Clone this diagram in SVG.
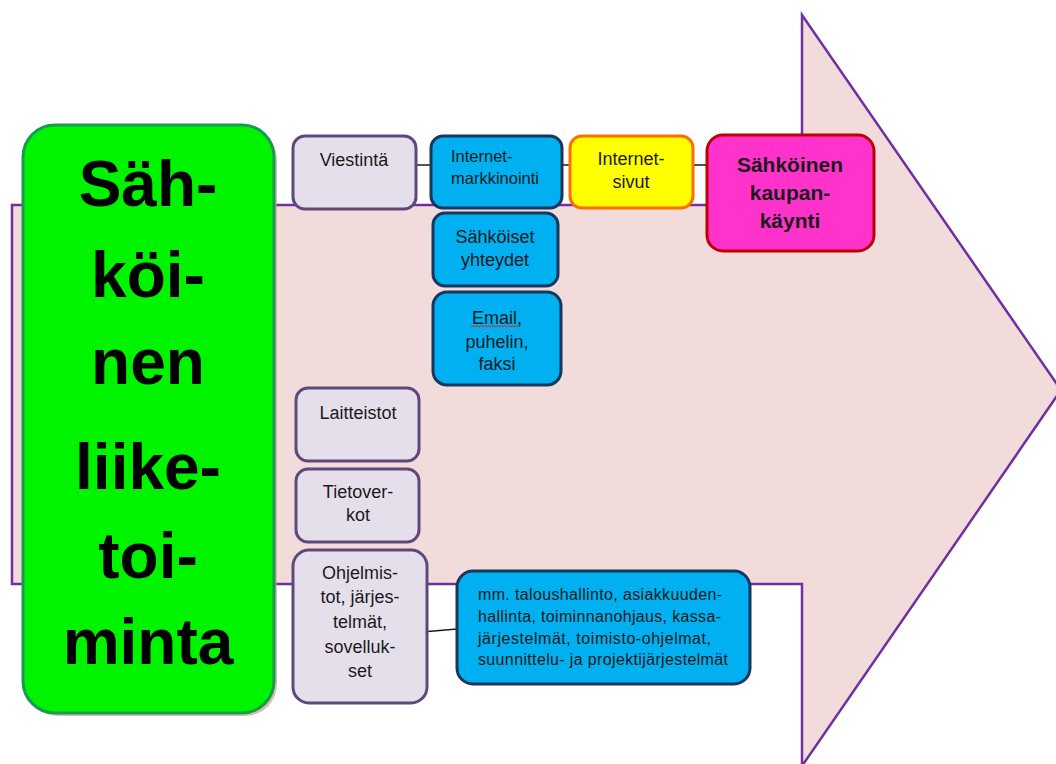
<svg xmlns="http://www.w3.org/2000/svg" width="1056" height="764" viewBox="0 0 1056 764">
  <style>
    text { font-family: "Liberation Sans", Arial, sans-serif; fill: #1a1a1a; }
    .c { text-anchor: middle; }
    .lav { fill: #e5dfec; stroke: #5f497a; stroke-width: 3; }
    .blue { fill: #00b0f0; stroke: #17375e; stroke-width: 3; }
    .small { font-size: 18px; }
    .mid { font-size: 16.5px; }
    .list { font-size: 16px; }
    .big { font-size: 64px; font-weight: bold; fill: #000; }
    .conn { stroke: #1a1a1a; stroke-width: 1.5; fill: none; }
  </style>

  <!-- big background arrow -->
  <path id="arrow" d="M12,205 L802,205 L802,15 L1061,390 L802,766 L802,584 L12,584 Z"
        fill="#f2dcdb" stroke="#7030a0" stroke-width="2.5" stroke-linejoin="miter"/>

  <!-- connectors -->
  <g id="connectors">
    <line class="conn" x1="416" y1="165" x2="431" y2="165"/>
    <line class="conn" x1="562" y1="165" x2="570" y2="165"/>
    <line class="conn" x1="693" y1="165" x2="707" y2="165"/>
    <line class="conn" x1="422" y1="632" x2="457" y2="629"/>
  </g>

  <!-- main title box -->
  <g id="sahkoinen-liiketoiminta">
    <rect x="26" y="128" width="251" height="588" rx="32" fill="#c9a58a" opacity="0.7"/>
    <rect x="23" y="125" width="251" height="588" rx="32" fill="#00f400" stroke="#169b4f" stroke-width="3"/>
    <text class="big c" x="148" y="206">Säh-</text>
    <text class="big c" x="148" y="297">köi-</text>
    <text class="big c" x="148" y="384">nen</text>
    <text class="big c" x="148" y="489">liike-</text>
    <text class="big c" x="148" y="578">toi-</text>
    <text class="big c" x="148" y="664">minta</text>
  </g>

  <g id="viestinta">
    <rect class="lav" x="293" y="136" width="123" height="73" rx="12"/>
    <text class="small c" x="354" y="166">Viestintä</text>
  </g>

  <g id="internet-markkinointi">
    <rect class="blue" x="431" y="136" width="131" height="72" rx="12"/>
    <text class="mid" x="451" y="162">Internet-</text>
    <text class="mid" x="451" y="184">markkinointi</text>
  </g>

  <g id="internet-sivut">
    <rect x="570" y="136" width="123" height="72" rx="12" fill="#ffff00" stroke="#ff6d00" stroke-width="3"/>
    <text class="small c" x="631" y="165">Internet-</text>
    <text class="small c" x="631" y="188">sivut</text>
  </g>

  <g id="sahkoinen-kaupankaynti">
    <rect x="707" y="135" width="167" height="116" rx="16" fill="#ff33cc" stroke="#c00000" stroke-width="3"/>
    <text class="c" x="790" y="172" font-size="21" font-weight="bold" fill="#1a0a1a">Sähköinen</text>
    <text class="c" x="790" y="200" font-size="21" font-weight="bold" fill="#1a0a1a">kaupan-</text>
    <text class="c" x="790" y="228" font-size="21" font-weight="bold" fill="#1a0a1a">käynti</text>
  </g>

  <g id="sahkoiset-yhteydet">
    <rect class="blue" x="433" y="213" width="125" height="73" rx="12"/>
    <text class="small c" x="495" y="243">Sähköiset</text>
    <text class="small c" x="495" y="266">yhteydet</text>
  </g>

  <g id="email-puhelin-faksi">
    <rect class="blue" x="433" y="292" width="128" height="93" rx="14"/>
    <text class="small c" x="497" y="324">Email,</text>
    <path d="M471,327 l2,-1.5 l2,1.5 l2,-1.5 l2,1.5 l2,-1.5 l2,1.5 l2,-1.5 l2,1.5 l2,-1.5 l2,1.5 l2,-1.5 l2,1.5 l2,-1.5 l2,1.5 l2,-1.5 l2,1.5 l2,-1.5 l2,1.5 l2,-1.5 l2,1.5 l2,-1.5 l2,1.5 l2,-1.5 l2,1.5" fill="none" stroke="#e02020" stroke-width="1"/>
    <text class="small c" x="497" y="348">puhelin,</text>
    <text class="small c" x="497" y="370">faksi</text>
  </g>

  <g id="laitteistot">
    <rect class="lav" x="296" y="388" width="123" height="73" rx="12"/>
    <text class="small c" x="358" y="419">Laitteistot</text>
  </g>

  <g id="tietoverkot">
    <rect class="lav" x="296" y="469" width="123" height="73" rx="12"/>
    <text class="small c" x="358" y="498">Tietover-</text>
    <text class="small c" x="358" y="521">kot</text>
  </g>

  <g id="ohjelmistot">
    <rect class="lav" x="293" y="550" width="134" height="153" rx="16"/>
    <text class="small c" x="360" y="579">Ohjelmis-</text>
    <text class="small c" x="360" y="603">tot, järjes-</text>
    <text class="small c" x="360" y="628">telmät,</text>
    <text class="small c" x="360" y="653">sovelluk-</text>
    <text class="small c" x="360" y="677">set</text>
  </g>

  <g id="sovellukset-lista">
    <rect class="blue" x="457" y="571" width="293" height="113" rx="16"/>
    <text class="list" x="478" y="600" textLength="244" lengthAdjust="spacing">mm. taloushallinto, asiakkuuden-</text>
    <text class="list" x="478" y="622" textLength="243" lengthAdjust="spacing">hallinta, toiminnanohjaus, kassa-</text>
    <text class="list" x="478" y="644" textLength="233" lengthAdjust="spacing">järjestelmät, toimisto-ohjelmat,</text>
    <text class="list" x="478" y="665" textLength="250" lengthAdjust="spacing">suunnittelu- ja projektijärjestelmät</text>
  </g>
</svg>
